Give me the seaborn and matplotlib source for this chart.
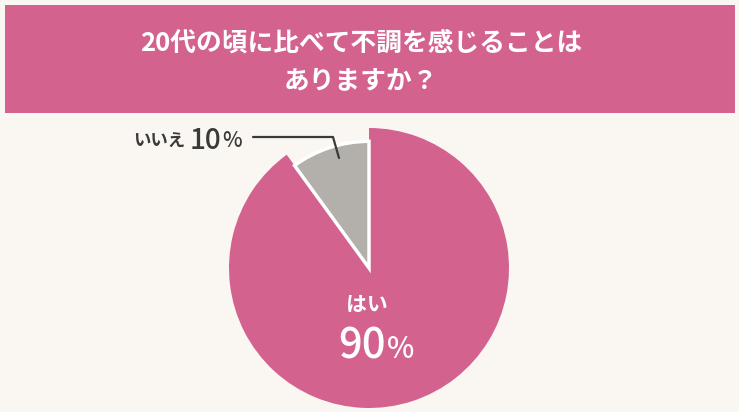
import matplotlib
matplotlib.use("Agg")
import matplotlib.pyplot as plt
import seaborn as sns
from matplotlib.patches import Rectangle

# ---- data ----
categories = ["はい", "いいえ"]
values = [90, 10]
title_lines = ["20代の頃に比べて不調を感じることは", "ありますか？"]

PINK = "#d4628f"
GRAY = "#b3b0ab"
BG = "#faf7f2"
DARK = "#3a3a3a"

sns.set_theme(style="white")
plt.rcParams['font.family'] = ['Noto Sans CJK JP', 'DejaVu Sans']

W, H = 739, 412
fig = plt.figure(figsize=(W / 100, H / 100), dpi=100)
fig.patch.set_facecolor(BG)

# header band
fig.patches.append(Rectangle((5 / W, 1 - 113 / H), 730 / W, 108 / H,
                             transform=fig.transFigure, facecolor=PINK,
                             edgecolor="none", zorder=0))
fig.text(361 / W, 1 - 43 / H, title_lines[0], ha="center", va="center",
         color="white", fontsize=18.5, fontweight="bold")
fig.text(361 / W, 1 - 81 / H, title_lines[1], ha="center", va="center",
         color="white", fontsize=18.5, fontweight="bold")

# pie axes: center (369, 268), radius 140 px
cx, cy, r = 369, 268, 140
ax = fig.add_axes([(cx - r) / W, 1 - (cy + r) / H, 2 * r / W, 2 * r / H])
ax.set_facecolor("none")
wedges, _ = ax.pie(values, colors=[PINK, GRAY], startangle=90, counterclock=False,
                   wedgeprops=dict(edgecolor="white", linewidth=2.5))
wedges[0].set_edgecolor(PINK)
wedges[0].set_linewidth(0)
wedges[1].set_radius(0.905)
ax.set_xlim(-1, 1)
ax.set_ylim(-1, 1)
ax.set_aspect("equal")
ax.axis("off")

# inside labels
fig.text(367 / W, 1 - 304 / H, categories[0], ha="center", va="center",
         color="white", fontsize=15, fontweight="bold")
fig.text(386 / W, 1 - 346 / H, f"{values[0]}", ha="right", va="center",
         color="white", fontsize=30, fontweight="medium")
fig.text(387 / W, 1 - 349 / H, "%", ha="left", va="center",
         color="white", fontsize=21, fontweight="medium")

# outside label with leader line
fig.text(185 / W, 1 - 142 / H, categories[1], ha="right", va="center",
         color=DARK, fontsize=12.5, fontweight="bold")
fig.text(221 / W, 1 - 140 / H, f"{values[1]}", ha="right", va="center",
         color=DARK, fontsize=20, fontweight="medium")
fig.text(222 / W, 1 - 141 / H, "%", ha="left", va="center",
         color=DARK, fontsize=15, fontweight="medium")
fig.add_artist(plt.Line2D([253 / W, 333 / W, 339 / W],
                          [1 - 137 / H, 1 - 137 / H, 1 - 158 / H],
                          transform=fig.transFigure, color=DARK, linewidth=1.6))

fig.savefig("out.png", dpi=100, facecolor=BG)
